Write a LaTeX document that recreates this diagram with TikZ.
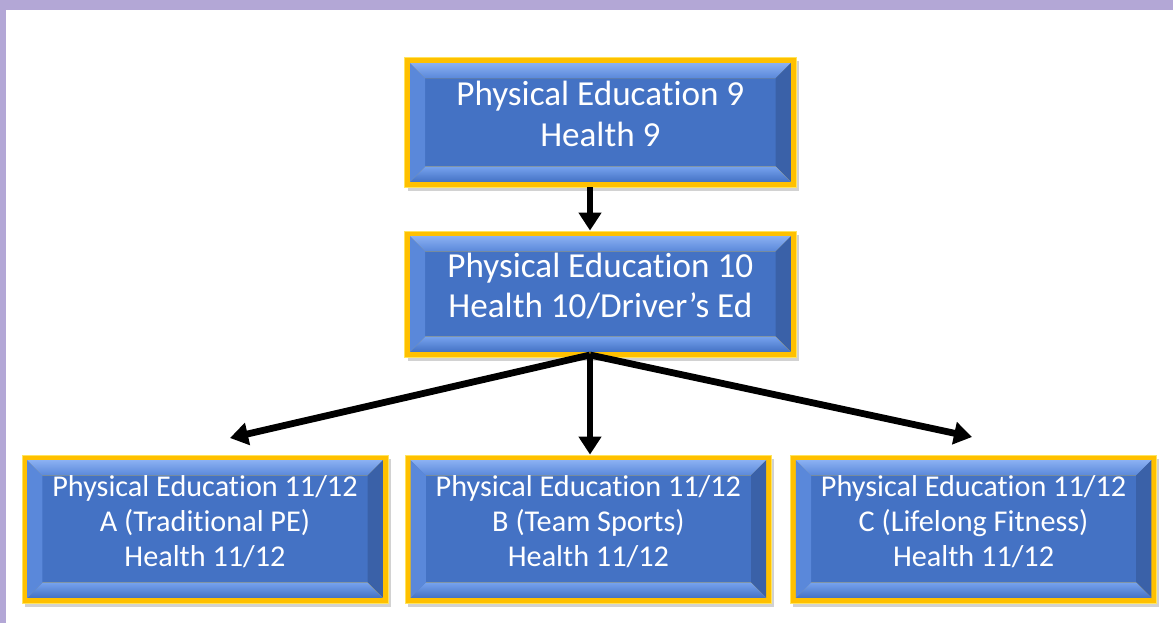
\documentclass[tikz,border=0pt]{standalone}
\usepackage{fontspec}
\setmainfont{Carlito}[Ligatures=NoCommon]
\usetikzlibrary{arrows.meta,calc,shadows}

\definecolor{peblue}{HTML}{4472C4}
\definecolor{pegold}{HTML}{FFC000}
\definecolor{pegoldlight}{HTML}{FFE45C}
\definecolor{pelight}{HTML}{8AB0F2}
\definecolor{pemid}{HTML}{5A88DA}
\definecolor{pedark}{HTML}{3A61A8}
\definecolor{pelow}{HTML}{76A2EE}
\definecolor{peframe}{HTML}{B3A7D6}

\tikzset{
  pebox/.style={rectangle, fill=pegold, draw=pegoldlight, line width=0.6pt,
    text=white, align=center, inner sep=0pt,
    drop shadow={opacity=0.35, shadow xshift=0.07cm, shadow yshift=-0.09cm},
    path picture={
      \coordinate (bl) at ([shift={(0.13,0.13)}]path picture bounding box.south west);
      \coordinate (tr) at ([shift={(-0.13,-0.13)}]path picture bounding box.north east);
      \fill[peblue] (bl) rectangle (tr);
      % bevel edges
      \fill[top color=pelight, bottom color=pemid] (bl |- tr) -- (tr) -- ($(tr)+(-0.38,-0.38)$) -- ($(bl |- tr)+(0.38,-0.38)$) -- cycle;
      \fill[pedark] (tr) -- (tr |- bl) -- ($(tr |- bl)+(-0.38,0.38)$) -- ($(tr)+(-0.38,-0.38)$) -- cycle;
      \fill[top color=pelow, bottom color=peblue] (tr |- bl) -- (bl) -- ($(bl)+(0.38,0.38)$) -- ($(tr |- bl)+(-0.38,0.38)$) -- cycle;
      \fill[pemid] (bl) -- (bl |- tr) -- ($(bl |- tr)+(0.38,-0.38)$) -- ($(bl)+(0.38,0.38)$) -- cycle;
    }},
  pearrow/.style={-{Triangle[length=0.45cm,width=0.55cm]}, line width=0.17cm}
}

\begin{document}
\begin{tikzpicture}
    \useasboundingbox (0,0) rectangle (29.325,-15.575);
    % Page frame
    \fill[white] (0,0) rectangle (29.325,-15.575);
    \fill[peframe] (0,0) rectangle (29.325,-0.25);
    \fill[peframe] (0,0) rectangle (0.15,-15.575);

    % Course boxes
    \node[pebox, minimum width=9.78cm, minimum height=3.23cm, text depth=0.45cm, font=\fontsize{25}{29.2}\selectfont] (pe9) at (15.01,-3.06) {Physical Education 9\\Health 9};
    \node[pebox, minimum width=9.78cm, minimum height=3.15cm, text depth=0.45cm, font=\fontsize{25}{28.4}\selectfont] (pe10) at (15.01,-7.35) {Physical Education 10\\Health 10/Driver’s Ed};
    \node[pebox, minimum width=9.15cm, minimum height=3.7cm, text depth=0.4cm, font=\fontsize{21.5}{24.9}\selectfont] (peA) at (5.125,-13.225) {Physical Education 11/12\\A (Traditional PE)\\Health 11/12};
    \node[pebox, minimum width=9.15cm, minimum height=3.7cm, text depth=0.4cm, font=\fontsize{21.5}{24.9}\selectfont] (peB) at (14.71,-13.225) {Physical Education 11/12\\B (Team Sports)\\Health 11/12};
    \node[pebox, minimum width=9.15cm, minimum height=3.7cm, text depth=0.4cm, font=\fontsize{21.5}{24.9}\selectfont] (peC) at (24.34,-13.225) {Physical Education 11/12\\C (Lifelong Fitness)\\Health 11/12};

    % Arrow ends
    \coordinate (fork) at (14.75,-8.875);
    \coordinate (leftend) at (5.75,-10.95);
    \coordinate (rightend) at (24.3,-10.925);

    % Draw arrows
    \draw[pearrow] (pe9.south -| fork) -- (pe10.north -| fork);
    \draw[pearrow] (fork) -- (leftend);
    \draw[pearrow] (fork) -- (peB.north -| fork);
    \draw[pearrow] (fork) -- (rightend);
\end{tikzpicture}
\end{document}
